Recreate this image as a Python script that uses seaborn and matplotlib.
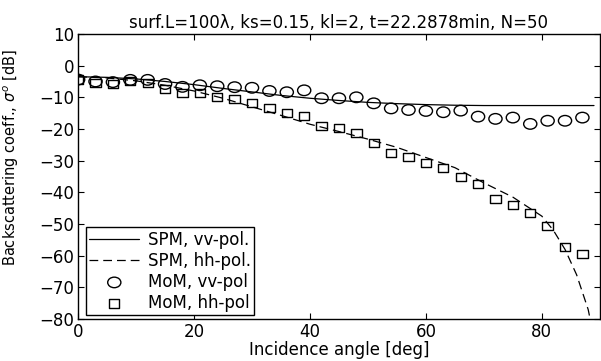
import numpy as np
import pandas as pd
import matplotlib
matplotlib.use("Agg")
import matplotlib.pyplot as plt
from matplotlib.path import Path
from matplotlib.transforms import Affine2D
import seaborn as sns

# SPM curves
spm_ang = [0, 5, 10, 15, 20, 25, 30, 35, 40, 45, 50, 55, 60, 65, 70, 75, 80, 82, 84, 86, 88, 89]
spm_vv = [-3.5, -3.7, -4.2, -5.0, -6.0, -7.2, -8.3, -9.4, -10.3, -11.0, -11.6, -12.0, -12.3,
          -12.5, -12.6, -12.6, -12.6, -12.6, -12.6, -12.6, -12.6, -12.6]
spm_hh = [-3.5, -3.9, -4.8, -6.2, -8.0, -10.3, -13.0, -15.7, -18.5, -20.8, -23.2, -25.8, -29.0,
          -32.2, -37.0, -41.5, -47.5, -52.0, -58.0, -66.0, -77.0, -86.0]

# MoM samples
mom_ang = [0, 3, 6, 9, 12, 15, 18, 21, 24, 27, 30, 33, 36, 39, 42, 45, 48, 51, 54, 57,
           60, 63, 66, 69, 72, 75, 78, 81, 84, 87]
mom_vv = [-4.4, -5.0, -5.2, -4.5, -4.5, -5.8, -6.7, -6.2, -6.5, -6.8, -7.0, -8.0, -8.4, -7.8,
          -10.3, -10.3, -10.0, -11.9, -13.5, -14.0, -14.3, -14.7, -14.2, -16.1, -16.8, -16.4,
          -18.4, -17.4, -17.4, -16.4]
mom_hh = [-4.4, -5.4, -5.8, -4.9, -5.5, -7.3, -8.6, -8.6, -9.9, -10.5, -11.7, -13.3, -14.9,
          -16.0, -19.0, -19.8, -21.2, -24.3, -27.5, -28.8, -30.7, -32.4, -35.1, -37.3, -42.0,
          -44.0, -46.6, -50.5, -57.3, -59.5]

spm = pd.DataFrame({"ang": spm_ang, "vv": spm_vv, "hh": spm_hh})
mom = pd.DataFrame({"ang": mom_ang, "vv": mom_vv, "hh": mom_hh})

# slightly squashed markers, like the stretched original
ell = Path.unit_circle().transformed(Affine2D().scale(1.0, 0.8))
rect = Path([(-1, -0.8), (1, -0.8), (1, 0.8), (-1, 0.8), (-1, -0.8)],
            [Path.MOVETO, Path.LINETO, Path.LINETO, Path.LINETO, Path.CLOSEPOLY])

sns.set_style("ticks")
plt.rcParams["font.family"] = ["DejaVu Sans"]
plt.rcParams["font.size"] = 12
plt.rcParams["mathtext.fontset"] = "dejavusans"
for k in ["text.color", "axes.labelcolor", "xtick.color", "ytick.color"]:
    plt.rcParams[k] = "black"

fig = plt.figure(figsize=(6.01, 3.61), dpi=100)
ax = fig.add_axes([0.130, 0.116, 0.868, 0.790])

sns.lineplot(data=spm, x="ang", y="vv", ax=ax, color="black", linewidth=0.9,
             label="SPM, vv-pol.")
sns.lineplot(data=spm, x="ang", y="hh", ax=ax, color="black", linewidth=0.9,
             linestyle=(0, (7, 4)), label="SPM, hh-pol.")
sns.scatterplot(data=mom, x="ang", y="vv", ax=ax, marker=ell, s=90, facecolor="none",
                edgecolor="black", linewidth=1.0, label="MoM, vv-pol")
sns.scatterplot(data=mom, x="ang", y="hh", ax=ax, marker=rect, s=55, facecolor="none",
                edgecolor="black", linewidth=1.0, label="MoM, hh-pol")

ax.set_xlim(0, 90)
ax.set_ylim(-80, 10)
ax.set_xticks([0, 20, 40, 60, 80])
ax.set_yticks(np.arange(-80, 11, 10))
ax.tick_params(direction="in", top=True, right=True, length=4, width=0.8,
               labelsize=12, colors="black", pad=3)
for sp in ax.spines.values():
    sp.set_visible(True)
    sp.set_color("black")
    sp.set_linewidth(1.0)

ax.set_xlabel("Incidence angle [deg]", fontsize=12, labelpad=0)
ax.set_ylabel(r"Backscattering coeff., $\sigma^o$ [dB]", fontsize=10.5)
ax.yaxis.set_label_coords(-0.109, 0.567)
ax.set_title("surf.L=100λ, ks=0.15, kl=2, t=22.2878min, N=50", fontsize=12, pad=4)

leg = ax.legend(loc="lower left", bbox_to_anchor=(0.015, 0.014), borderaxespad=0,
                fontsize=12, frameon=True, fancybox=False, framealpha=1,
                edgecolor="black", handlelength=3.0, handletextpad=0.5,
                labelspacing=0.18, borderpad=0.2, scatterpoints=1)
leg.get_frame().set_linewidth(1.0)

fig.savefig("out.png", dpi=100)
